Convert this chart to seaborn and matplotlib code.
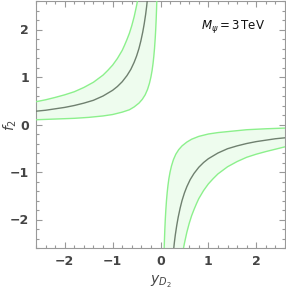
import numpy as np
import pandas as pd
import matplotlib
matplotlib.use("Agg")
import matplotlib.pyplot as plt
from matplotlib.ticker import MultipleLocator
import seaborn as sns

# ---- data (y_D2, f2) ----
# left branch (y_D2 < 0)
outer_left_x = [-2.6, -2.4, -2.2, -2.0, -1.8, -1.6, -1.4, -1.2, -1.1, -1.0, -0.9, -0.8, -0.75,
                -0.7, -0.65, -0.6, -0.55, -0.5, -0.47, -0.45]
outer_left_f = [0.48, 0.52, 0.57, 0.625, 0.69, 0.78, 0.89, 1.04, 1.14, 1.25, 1.39, 1.56, 1.67,
                1.79, 1.92, 2.08, 2.27, 2.50, 2.66, 2.78]
center_left_x = [-2.6, -2.4, -2.2, -2.0, -1.8, -1.6, -1.4, -1.2, -1.0, -0.9, -0.8, -0.7, -0.62,
                 -0.55, -0.5, -0.45, -0.41, -0.37, -0.34, -0.31, -0.29, -0.27]
center_left_f = [0.28, 0.30, 0.33, 0.36, 0.40, 0.45, 0.51, 0.60, 0.72, 0.80, 0.90, 1.03, 1.16,
                 1.31, 1.44, 1.60, 1.76, 1.95, 2.12, 2.32, 2.48, 2.67]
inner_left_x = [-2.6, -2.2, -1.8, -1.5, -1.2, -1.0, -0.8, -0.65, -0.55, -0.45, -0.38, -0.32, -0.27,
                -0.23, -0.2, -0.175, -0.155, -0.14, -0.125, -0.11, -0.1, -0.09, -0.082, -0.075]
inner_left_f = [0.10, 0.115, 0.13, 0.15, 0.18, 0.21, 0.26, 0.31, 0.37, 0.45, 0.53, 0.625, 0.74,
                0.87, 1.0, 1.14, 1.29, 1.43, 1.60, 1.82, 2.0, 2.22, 2.44, 2.67]
# right branch (y_D2 > 0)
inner_right_x = [0.075, 0.082, 0.09, 0.1, 0.11, 0.125, 0.14, 0.155, 0.175, 0.2, 0.23, 0.27, 0.32,
                 0.38, 0.45, 0.55, 0.65, 0.8, 1.0, 1.2, 1.5, 1.8, 2.2, 2.6]
inner_right_f = [-2.67, -2.44, -2.22, -2.0, -1.82, -1.60, -1.43, -1.29, -1.14, -1.0, -0.87, -0.74,
                 -0.625, -0.53, -0.45, -0.37, -0.31, -0.25, -0.2, -0.17, -0.14, -0.11, -0.09, -0.075]
center_right_x = [0.27, 0.29, 0.31, 0.34, 0.37, 0.41, 0.45, 0.5, 0.55, 0.62, 0.7, 0.8, 0.9, 1.0,
                  1.2, 1.4, 1.6, 1.8, 2.0, 2.2, 2.4, 2.6]
center_right_f = [-2.67, -2.48, -2.32, -2.12, -1.95, -1.76, -1.60, -1.44, -1.31, -1.16, -1.03,
                  -0.90, -0.80, -0.72, -0.60, -0.51, -0.45, -0.40, -0.36, -0.33, -0.30, -0.28]
outer_right_x = [0.45, 0.47, 0.5, 0.55, 0.6, 0.65, 0.7, 0.75, 0.8, 0.9, 1.0, 1.1, 1.2, 1.4, 1.6,
                 1.8, 2.0, 2.2, 2.4, 2.6]
outer_right_f = [-2.78, -2.66, -2.50, -2.27, -2.08, -1.92, -1.79, -1.67, -1.56, -1.39, -1.25,
                 -1.14, -1.04, -0.89, -0.78, -0.69, -0.625, -0.57, -0.52, -0.47]

x_ticks = [-2, -1, 0, 1, 2]
y_ticks = [-2, -1, 0, 1, 2]
annotation = r"$M_\psi = 3\,\mathrm{TeV}$"

# ---- styling ----
sns.set_style("ticks")
plt.rcParams["font.family"] = ["DejaVu Sans"]
green = "#8CF08C"
fill_c = "#EEFCEE"
center_c = "#6F806F"
gray = "#999999"
label_c = "#444444"

fig = plt.figure(figsize=(2.86, 2.89), dpi=100)
ax = fig.add_axes([36 / 286, 1 - 248 / 289, 249 / 286, 247 / 289])

# bands
for ox, of, ix, iff in [(outer_left_x, outer_left_f, inner_left_x, inner_left_f),
                        (outer_right_x, outer_right_f, inner_right_x, inner_right_f)]:
    px = list(ox) + list(ix[::-1])
    pf = list(of) + list(iff[::-1])
    ax.fill(px, pf, color=fill_c, lw=0, zorder=1)

def draw(x, f, color, lw):
    df = pd.DataFrame({"y": x, "f": f})
    sns.lineplot(data=df, x="y", y="f", ax=ax, color=color, lw=lw, sort=False,
                 estimator=None, zorder=3)

for x, f in [(outer_left_x, outer_left_f), (inner_left_x, inner_left_f),
             (outer_right_x, outer_right_f), (inner_right_x, inner_right_f)]:
    draw(x, f, green, 1.0)
for x, f in [(center_left_x, center_left_f), (center_right_x, center_right_f)]:
    draw(x, f, center_c, 1.0)

ax.set_xlim(-2.6, 2.6)
ax.set_ylim(-2.6, 2.6)
ax.set_xticks(x_ticks)
ax.set_yticks(y_ticks)
ax.set_xticklabels([str(t).replace("-", "\u2212") for t in x_ticks])
ax.set_yticklabels([str(t).replace("-", "\u2212") for t in y_ticks])
ax.xaxis.set_minor_locator(MultipleLocator(0.2))
ax.yaxis.set_minor_locator(MultipleLocator(0.2))
ax.tick_params(which="both", direction="in", top=True, right=True, color=gray, width=0.8)
ax.tick_params(which="major", length=4, labelsize=9, labelcolor=label_c, pad=5)
ax.tick_params(which="minor", length=2)
for lab in ax.get_xticklabels() + ax.get_yticklabels():
    lab.set_fontweight("bold")
for s in ax.spines.values():
    s.set_color(gray)
    s.set_linewidth(0.8)

ax.set_xlabel(r"$y_{D_2}$", fontsize=10, color=label_c)
ax.set_ylabel(r"$f_2$", fontsize=10, color=label_c)
ax.xaxis.set_label_coords(0.5, -0.105)
ax.yaxis.set_label_coords(-0.07, 0.5)
ax.text(0.79, 0.895, annotation, transform=ax.transAxes, ha="center", va="center",
        fontsize=8.5, color="#111111")

fig.savefig("out.png", dpi=100)
